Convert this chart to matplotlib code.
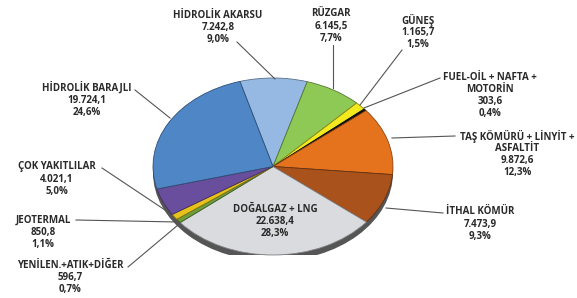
import matplotlib
matplotlib.use("Agg")
import matplotlib.pyplot as plt
from matplotlib.patches import Ellipse
import matplotlib.colors as mcolors

# ---- data (clockwise from top) ----
names = ["HİDROLİK AKARSU", "RÜZGAR", "GÜNEŞ", "FUEL-OİL + NAFTA +\nMOTORİN",
         "TAŞ KÖMÜRÜ + LİNYİT +\nASFALTİT", "İTHAL KÖMÜR", "DOĞALGAZ + LNG",
         "YENİLEN.+ATIK+DİĞER", "JEOTERMAL", "ÇOK YAKITLILAR", "HİDROLİK BARAJLI"]
values = [7242.8, 6145.5, 1165.7, 303.6, 9872.6, 7473.9, 22638.4,
          596.7, 850.8, 4021.1, 19724.1]
percents = ["9,0%", "7,7%", "1,5%", "0,4%", "12,3%", "9,3%", "28,3%",
            "0,7%", "1,1%", "5,0%", "24,6%"]
colors = ["#95B9E3", "#8FC955", "#F2EA1E", "#111111", "#E5731E", "#A9521C",
          "#DADBDF", "#6E9E3A", "#E8C21C", "#6A4E9E", "#4F86C6"]

# label layout: (center x, first line y) in pixels, and leader line endpoints
label_pos = [(218, 15), (331, 14), (418, 20), (490, 77), (517, 136), (480, 212),
             (275, 209), (70, 265), (43, 220), (57, 167), (87, 88)]
leaders = [((237, 42), (275, 79)), ((333, 45), (333, 88)), ((402, 50), (360, 105)),
           ((440, 78), (364, 108)), ((455, 136), (392, 138)), ((443, 213), (386, 208)),
           None, ((128, 267), (178, 225)), ((76, 220), (178, 222)),
           ((102, 168), (165, 210)), ((135, 90), (170, 118))]

W, H = 577, 298
fig = plt.figure(figsize=(W / 100, H / 100), dpi=100)
fig.patch.set_facecolor("white")

# pie axes (elliptical, 3D look)
px0, px1, py0, py1 = 153, 393, 78, 255
axp = fig.add_axes([px0 / W, 1 - py1 / H, (px1 - px0) / W, (py1 - py0) / H])
# side / thickness
axp.add_patch(Ellipse((0.0, -0.07), 2.0, 2.0, facecolor="#555555", edgecolor="none", zorder=0))
edge_cols = [tuple(c * 0.6 for c in mcolors.to_rgb(col)) for col in colors]
wedges, _ = axp.pie(values, colors=colors, startangle=106, counterclock=False,
                    radius=1.0, wedgeprops=dict(linewidth=0.6))
for w, ec in zip(wedges, edge_cols):
    w.set_edgecolor(ec)
    w.set_zorder(2)
axp.set_aspect("auto")
axp.set_xlim(-1.0, 1.0)
axp.set_ylim(-1.0, 1.0)
axp.axis("off")

# overlay axes in pixel coords
ax = fig.add_axes([0, 0, 1, 1], zorder=5)
ax.set_xlim(0, W)
ax.set_ylim(H, 0)
ax.axis("off")
ax.patch.set_alpha(0)


def fmt(v):
    s = f"{v:,.1f}"
    return s.replace(",", "X").replace(".", ",").replace("X", ".")


dy = 12.3
for i, (nm, v, p) in enumerate(zip(names, values, percents)):
    lines = nm.split("\n") + [fmt(v), p]
    x, y = label_pos[i]
    for j, ln in enumerate(lines):
        ax.text(x, y + j * dy, ln, ha="center", va="center", fontsize=7,
                fontweight="bold", color="#2A2A2A", family="Open Sans")
    if leaders[i] is not None:
        (x0, y0), (x1, y1) = leaders[i]
        ax.plot([x0, x1], [y0, y1], color="#555555", lw=0.8)

fig.savefig("out.png", dpi=100, facecolor="white")
